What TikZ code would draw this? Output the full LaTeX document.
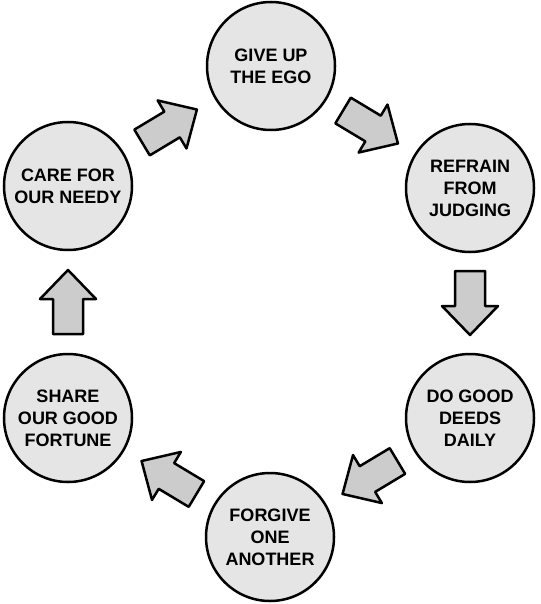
\documentclass[tikz,border=0pt]{standalone}
\usepackage{fontspec}
\setmainfont{Liberation Sans}
\usetikzlibrary{calc}
\tikzset{
  stage/.style={circle, draw=black, line width=2.5pt, fill=gray!20, minimum size=128pt, inner sep=0pt,
    align=center, font=\fontsize{18}{22}\selectfont\bfseries},
  arrowbody/.style={draw=black, line width=2.5pt, fill=gray!40, line join=round},
  flowarrow/.pic={\draw[arrowbody] (-32,-15) -- (3,-15) -- (3,-28) -- (32,0) -- (3,28) -- (3,15) -- (-32,15) -- cycle;}
}
\begin{document}
\begin{tikzpicture}[x=1pt,y=-1pt]
\useasboundingbox (0,0) rectangle (540,604);
\node[stage] (top) at (271,66) {GIVE UP\\THE EGO};
\node[stage] (rt) at (470,188) {REFRAIN\\FROM\\JUDGING};
\node[stage] (rb) at (470,418) {DO GOOD\\DEEDS\\DAILY};
\node[stage] (bot) at (270,537) {FORGIVE\\ONE\\ANOTHER};
\node[stage] (lb) at (68,418) {SHARE\\OUR GOOD\\FORTUNE};
\node[stage] (lt) at (68,186) {CARE FOR\\OUR NEEDY};
\pic[rotate=31] at ($(lt)!0.5!(top)$) {flowarrow};
\pic[rotate=-31] at ($(top)!0.5!(rt)$) {flowarrow};
\pic[rotate=-90] at ($(rt)!0.5!(rb)$) {flowarrow};
\pic[rotate=211] at ($(rb)!0.5!(bot)$) {flowarrow};
\pic[rotate=149] at ($(bot)!0.5!(lb)$) {flowarrow};
\pic[rotate=90] at ($(lb)!0.5!(lt)$) {flowarrow};
\end{tikzpicture}
\end{document}
